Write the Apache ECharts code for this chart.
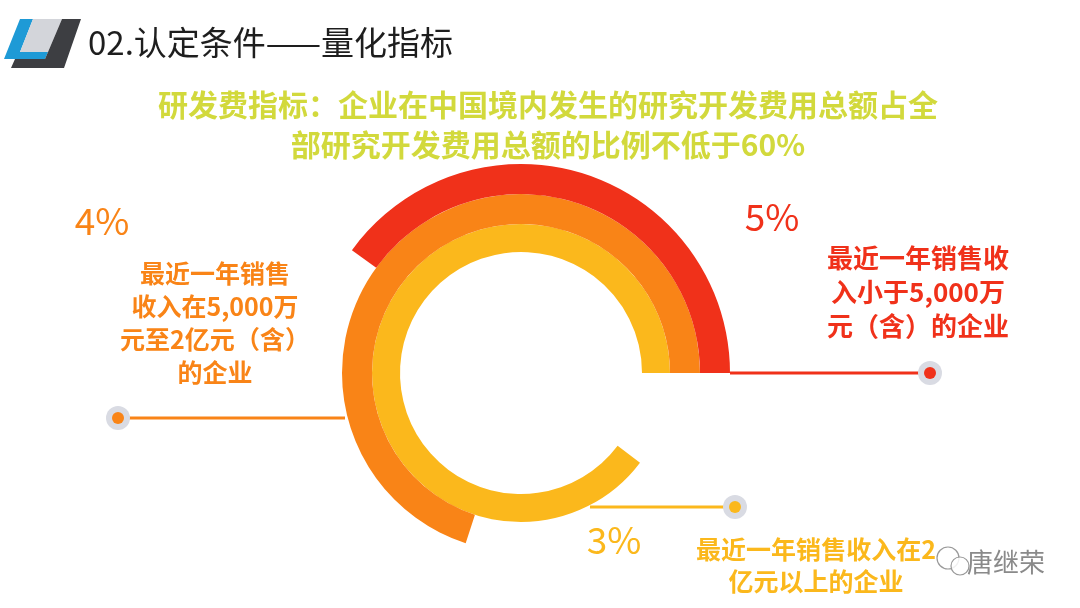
<!DOCTYPE html>
<html><head><meta charset="utf-8">
<script src="https://cdn.jsdelivr.net/npm/echarts@6/dist/echarts.min.js"></script>
<style>html,body{margin:0;padding:0;background:#fff}#c{width:1080px;height:608px}</style>
</head><body><div id="c"></div>
<script>
/* ---------- data ---------- */
const ringNames  = ['yellow','orange','red'];
const ringSpans  = [323, 252, 144];          // degrees, ccw from 3 o'clock
const ringColors = ['#fbb81c','#f98417','#f0311a'];
const ringRadii  = [[121,149],[149,179],[179,209]];
const pctLabels  = ['3%','4%','5%'];
const descLines  = [
  ['最近一年销售收入在2','亿元以上的企业'],
  ['最近一年销售','收入在5,000万','元至2亿元（含）','的企业'],
  ['最近一年销售收','入小于5,000万','元（含）的企业']
];
const F = '"Noto Sans CJK SC","Noto Sans",sans-serif';
const cx=521, cy=373;

/* ---------- rings ---------- */
const series = ringSpans.map((s,i)=>({
  type:'pie', center:[cx,cy], radius:ringRadii[i], startAngle:0, clockwise:false,
  silent:true, label:{show:false}, emphasis:{disabled:true},
  data:[{value:s,name:ringNames[i],itemStyle:{color:ringColors[i]}},
        {value:360-s,itemStyle:{color:'transparent'}}]
}));

/* ---------- graphics ---------- */
const g=[];
function txt(x,y,t,size,color,weight,align){
  g.push({type:'text',x:x,y:y,style:{text:t,fill:color,font:`${weight||'normal'} ${size}px ${F}`,
    textAlign:align||'left',textVerticalAlign:'middle'}});
}
function leader(x1,x2,y,color,dotX){
  g.push({type:'line',shape:{x1:x1,y1:y,x2:x2,y2:y},style:{stroke:color,lineWidth:3}});
  g.push({type:'circle',shape:{cx:dotX,cy:y,r:12},style:{fill:'#d9dbe3'}});
  g.push({type:'circle',shape:{cx:dotX,cy:y,r:6},style:{fill:color}});
}
// logo
g.push({type:'polygon',shape:{points:[[20,19],[33,19],[20,52],[48,52],[45,59],[4,59]]},style:{fill:'#1e9ad6'}});
g.push({type:'polygon',shape:{points:[[33,19],[62,19],[48,52],[20,52]]},style:{fill:'#d3d5da'}});
g.push({type:'polygon',shape:{points:[[62,19],[81,19],[64,68],[11,68],[15,59],[45,59],[48,52]]},style:{fill:'#3d3e42'}});
txt(88,42,'02.认定条件——量化指标',33,'#1e1e1e');
txt(548,105,'研发费指标：企业在中国境内发生的研究开发费用总额占全',30,'#d2d93c','bold','center');
txt(548,145,'部研究开发费用总额的比例不低于60%',30,'#d2d93c','bold','center');

leader(730,930,373,ringColors[2],930);
leader(118,345,418,ringColors[1],118);
leader(590,735,507,ringColors[0],735);

txt(102,221,pctLabels[1],37,ringColors[1],'normal','center');
txt(772,217,pctLabels[2],37,ringColors[2],'normal','center');
txt(614,540,pctLabels[0],37,ringColors[0],'normal','center');

descLines[1].forEach((l,i)=>txt(215,273+i*33,l,25,ringColors[1],'bold','center'));
descLines[2].forEach((l,i)=>txt(918,258+i*34,l,26,ringColors[2],'bold','center'));
descLines[0].forEach((l,i)=>txt(816,549+i*32,l,25,ringColors[0],'bold','center'));

// watermark
g.push({type:'circle',shape:{cx:948,cy:558,r:11},style:{fill:'rgba(255,255,255,0.85)',stroke:'#999',lineWidth:1.2}});
g.push({type:'circle',shape:{cx:960,cy:566,r:9},style:{fill:'rgba(255,255,255,0.85)',stroke:'#999',lineWidth:1.2}});
txt(1006,562,'唐继荣',26,'#8a8a8a','normal','center');

echarts.init(document.getElementById('c')).setOption({
  animation:false, backgroundColor:'#fff', series:series, graphic:g
});
</script></body></html>
